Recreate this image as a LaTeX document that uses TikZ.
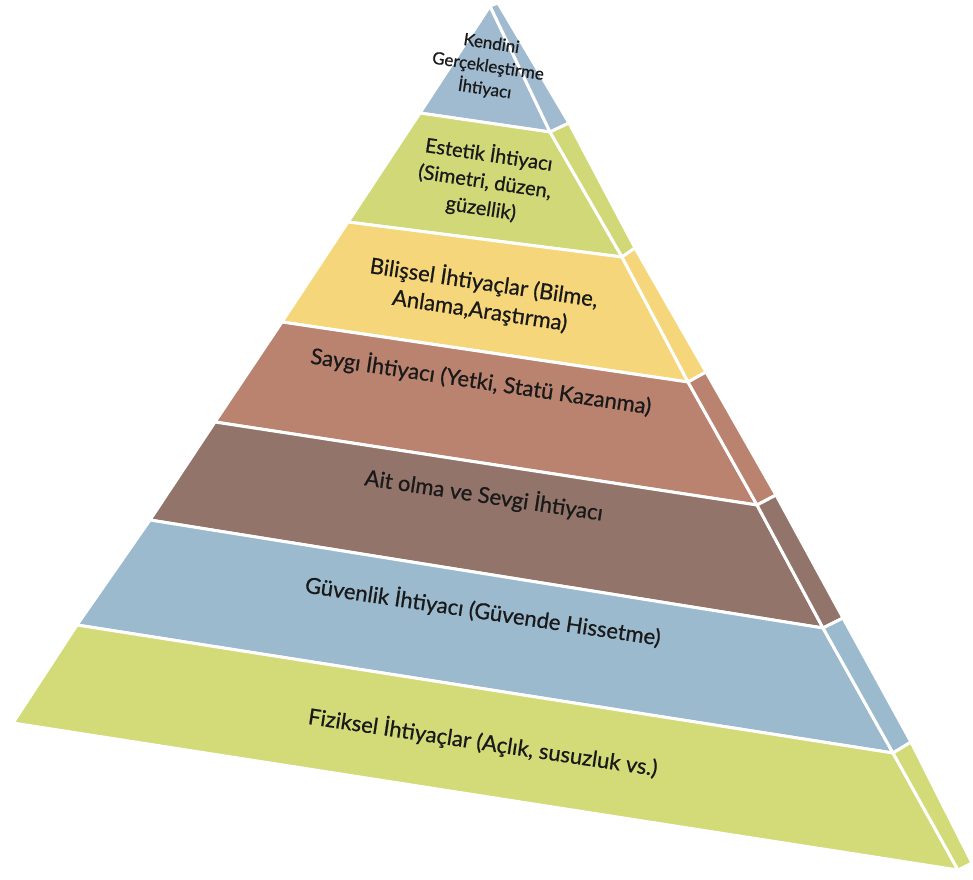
\documentclass[tikz,border=0pt]{standalone}
\usepackage{fontspec}
\setmainfont{Lato}[FakeBold=0.7]
\usetikzlibrary{positioning}

\definecolor{skyblue}{RGB}{160,186,207}
\definecolor{olivegreen}{RGB}{208,216,120}
\definecolor{sandyellow}{RGB}{246,214,122}
\definecolor{rosebrown}{RGB}{186,131,112}
\definecolor{mudbrown}{RGB}{146,116,106}
\definecolor{steelblue}{RGB}{156,186,206}
\definecolor{limegreen}{RGB}{211,218,120}

\begin{document}
\begin{tikzpicture}
        [x=1pt,y=-1pt,
         band/.style={draw=white,line width=3pt,line join=round},
         need/.style={align=center,rotate=-8.5,text=black!90,inner sep=0pt,
                      font=\fontsize{22}{28}\selectfont}]
        \useasboundingbox (0,0) rectangle (973,879);

        % front face, left edge
        \coordinate (l0) at (490,6);
        \coordinate (l1) at (420,113);
        \coordinate (l2) at (348,222);
        \coordinate (l3) at (282,322);
        \coordinate (l4) at (215,422);
        \coordinate (l5) at (150,520);
        \coordinate (l6) at (77,625);
        \coordinate (l7) at (13,723);
        % ridge
        \coordinate (r0) at (490,6);
        \coordinate (r1) at (550,132);
        \coordinate (r2) at (622,257);
        \coordinate (r3) at (688,382);
        \coordinate (r4) at (757,505);
        \coordinate (r5) at (823,628);
        \coordinate (r6) at (893,753);
        \coordinate (r7) at (958,870);
        % side face, outer edge
        \coordinate (o0) at (498,3);
        \coordinate (o1) at (569,123);
        \coordinate (o2) at (635,248);
        \coordinate (o3) at (706,372);
        \coordinate (o4) at (776,495);
        \coordinate (o5) at (843,618);
        \coordinate (o6) at (911,742);
        \coordinate (o7) at (972,863);

        \foreach \i/\j/\c in {0/1/skyblue, 1/2/olivegreen, 2/3/sandyellow,
                3/4/rosebrown, 4/5/mudbrown, 5/6/steelblue, 6/7/limegreen}
        {
            \draw[band,fill=\c] (l\i) -- (l\j) -- (r\j) -- (r\i) -- cycle;
            \draw[band,fill=\c] (r\i) -- (r\j) -- (o\j) -- (o\i) -- cycle;
        }

        \node[need,font=\fontsize{17}{23}\selectfont] (self) at (488,67)
            {Kendini\\Gerçekleştirme\\İhtiyacı};
        \node[need,font=\fontsize{20}{27}\selectfont] (aesthetic) at (485,181)
            {Estetik İhtiyacı\\(Simetri, düzen,\\güzellik)};
        \node[need] (cognitive) at (482,296)
            {Bilişsel İhtiyaçlar (Bilme,\\Anlama,Araştırma)};
        \node[need] (esteem) at (481,381)
            {Saygı İhtiyacı (Yetki, Statü Kazanma)};
        \node[need] (belonging) at (484,495)
            {Ait olma ve Sevgi İhtiyacı};
        \node[need] (safety) at (483,611)
            {Güvenlik İhtiyacı (Güvende Hissetme)};
        \node[need] (physical) at (483,742)
            {Fiziksel İhtiyaçlar (Açlık, susuzluk vs.)};

      \end{tikzpicture}
\end{document}
